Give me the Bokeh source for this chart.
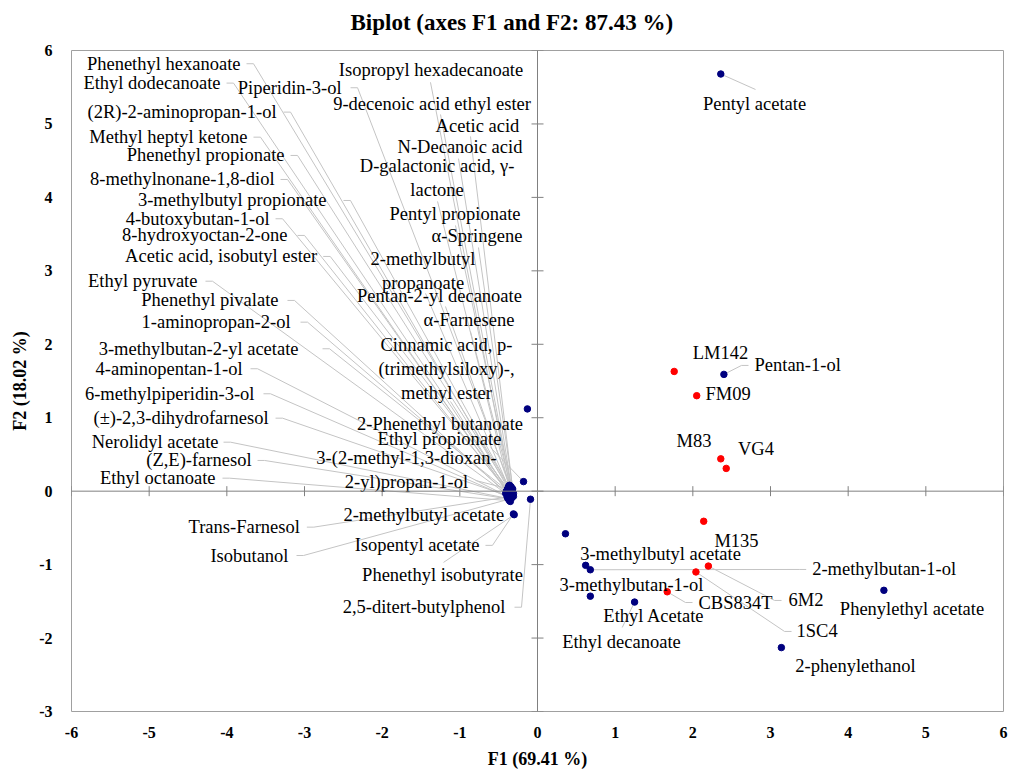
from bokeh.plotting import figure
from bokeh.models import Range1d, FixedTicker, Span, Title
from bokeh.core.properties import value
from bokeh.embed import file_html
from bokeh.resources import INLINE

title_text = "Biplot (axes F1 and F2: 87.43 %)"
x_title = "F1 (69.41 %)"
y_title = "F2 (18.02 %)"
x_ticks = list(range(-6, 7))
y_ticks = list(range(-3, 7))

# ---- Observations (strains), red ----
obs_names = ["LM142", "FM09", "M83", "VG4", "M135", "6M2", "1SC4", "CBS834T"]
obs_f1 = [1.76, 2.05, 2.36, 2.43, 2.14, 2.20, 2.04, 1.67]
obs_f2 = [1.63, 1.30, 0.44, 0.31, -0.41, -1.02, -1.10, -1.37]

# ---- Variables (compounds), navy ----
var_names = [
    "Phenethyl hexanoate", "Ethyl dodecanoate", "Piperidin-3-ol",
    "(2R)-2-aminopropan-1-ol", "Methyl heptyl ketone", "Phenethyl propionate",
    "8-methylnonane-1,8-diol", "3-methylbutyl propionate", "4-butoxybutan-1-ol",
    "8-hydroxyoctan-2-one", "Acetic acid, isobutyl ester", "Ethyl pyruvate",
    "Phenethyl pivalate", "1-aminopropan-2-ol", "3-methylbutan-2-yl acetate",
    "4-aminopentan-1-ol", "6-methylpiperidin-3-ol", "(±)-2,3-dihydrofarnesol",
    "Nerolidyl acetate", "(Z,E)-farnesol", "Ethyl octanoate",
    "Isopropyl hexadecanoate", "9-decenoic acid ethyl ester", "Acetic acid",
    "N-Decanoic acid", "D-galactonic acid, γ-lactone", "Pentyl propionate",
    "α-Springene", "2-methylbutyl propanoate", "Pentan-2-yl decanoate",
    "α-Farnesene", "Cinnamic acid, p-(trimethylsiloxy)-, methyl ester",
    "2-Phenethyl butanoate", "Ethyl propionate",
    "3-(2-methyl-1,3-dioxan-2-yl)propan-1-ol",
    "Trans-Farnesol", "Isobutanol", "2-methylbutyl acetate",
    "Isopentyl acetate", "Phenethyl isobutyrate", "2,5-ditert-butylphenol",
    "Pentyl acetate", "Pentan-1-ol", "Phenylethyl acetate", "2-phenylethanol",
    "3-methylbutyl acetate", "3-methylbutan-1-ol", "2-methylbutan-1-ol",
    "Ethyl Acetate", "Ethyl decanoate",
]
var_f1 = [
    -0.37, -0.39, -0.34, -0.38, -0.40, -0.35, -0.38, -0.34, -0.37, -0.36,
    -0.34, -0.41, -0.38, -0.35, -0.33, -0.39, -0.36, -0.34, -0.38, -0.35,
    -0.36, -0.36, -0.34, -0.32, -0.33, -0.35, -0.32, -0.31, -0.34, -0.32,
    -0.31, -0.33, -0.13, -0.18, -0.37, -0.39, -0.37, -0.35, -0.31, -0.30,
    -0.09, 2.36, 2.40, 4.46, 3.14, 0.36, 0.62, 0.68, 0.68, 1.25,
]
var_f2 = [
    0.07, 0.02, 0.05, 0.04, 0.00, 0.02, -0.02, 0.01, -0.01, -0.04,
    -0.02, -0.03, -0.05, -0.06, -0.04, -0.07, -0.09, -0.08, -0.10, -0.11,
    -0.13, 0.08, 0.06, 0.03, 0.02, 0.00, -0.01, -0.03, -0.03, -0.05,
    -0.07, -0.09, 1.12, 0.13, 0.03, -0.08, -0.11, -0.14, -0.31, -0.32,
    -0.11, 5.68, 1.59, -1.35, -2.13, -0.58, -1.01, -1.07, -1.43, -1.51,
]

# ---- Label layout (placement only): text, x, y, align, leader ----
# leader: None, ("e", gap_px) elbow from label side, ("s", x, y) straight from a start point
var_layout = [
    ("Phenethyl hexanoate", -3.824, 5.820, "right", ("e", 6)),
    ("Ethyl dodecanoate", -4.081, 5.556, "right", ("e", 6)),
    ("Piperidin-3-ol", -2.523, 5.493, "right", ("e", 9)),
    ("(2R)-2-aminopropan-1-ol", -3.360, 5.161, "right", ("e", 7)),
    ("Methyl heptyl ketone", -3.734, 4.820, "right", ("e", 6)),
    ("Phenethyl propionate", -3.257, 4.571, "right", ("e", 6)),
    ("8-methylnonane-1,8-diol", -3.386, 4.244, "right", ("e", 6)),
    ("3-methylbutyl propionate", -2.717, 3.958, "right", ("e", 17)),
    ("4-butoxybutan-1-ol", -3.450, 3.709, "right", ("e", 6)),
    ("8-hydroxyoctan-2-one", -3.219, 3.482, "right", ("e", 10)),
    ("Acetic acid, isobutyl ester", -2.836, 3.196, "right", ("e", 6)),
    ("Ethyl pyruvate", -4.378, 2.859, "right", ("e", 8)),
    ("Phenethyl pivalate", -3.335, 2.597, "right", ("e", 9)),
    ("1-aminopropan-2-ol", -3.180, 2.301, "right", ("e", 10)),
    ("3-methylbutan-2-yl acetate", -3.077, 1.939, "right", ("e", 24)),
    ("4-aminopentan-1-ol", -3.798, 1.667, "right", ("e", 8)),
    ("6-methylpiperidin-3-ol", -3.644, 1.326, "right", ("e", 9)),
    ("(±)-2,3-dihydrofarnesol", -3.463, 0.994, "right", ("e", 7)),
    ("Nerolidyl acetate", -4.107, 0.667, "right", ("e", 5)),
    ("(Z,E)-farnesol", -3.682, 0.418, "right", ("e", 6)),
    ("Ethyl octanoate", -4.146, 0.177, "right", ("e", 7)),
    ("Isopropyl hexadecanoate", -1.371, 5.728, "center", ("s", -1.378, 5.567)),
    ("9-decenoic acid ethyl ester", -1.358, 5.275, "center", ("s", -1.249, 5.129)),
    ("Acetic acid", -0.773, 4.966, "center", ("s", -0.863, 4.830)),
    ("N-Decanoic acid", -0.998, 4.684, "center", ("s", -1.017, 4.528)),
    ("D-galactonic acid, γ-\nlactone", -1.293, 4.258, "center", ("s", -1.287, 3.945)),
    ("Pentyl propionate", -1.062, 3.768, "center", ("s", -1.056, 3.618)),
    ("α-Springene", -0.779, 3.468, "center", ("s", -0.760, 3.318)),
    ("2-methylbutyl\npropanoate", -1.474, 2.992, "center", ("s", -1.442, 2.693)),
    ("Pentan-2-yl decanoate", -1.262, 2.655, "center", ("s", -1.185, 2.515)),
    ("α-Farnesene", -0.882, 2.324, "center", ("s", -0.863, 2.175)),
    ("Cinnamic acid, p-\n(trimethylsiloxy)-,\nmethyl ester", -1.172, 1.667, "center", ("s", -1.120, 1.221)),
    ("2-Phenethyl butanoate", -1.255, 0.918, "center", None),
    ("Ethyl propionate", -1.262, 0.713, "center", ("s", -0.605, 0.595)),
    ("3-(2-methyl-1,3-dioxan-\n2-yl)propan-1-ol", -1.687, 0.282, "center", ("s", -0.798, 0.146)),
    ("Trans-Farnesol", -3.060, -0.490, "right", ("e", 7)),
    ("Isobutanol", -3.206, -0.876, "right", ("e", 8)),
    ("2-methylbutyl acetate", -1.464, -0.331, "center", None),
    ("Isopentyl acetate", -0.747, -0.738, "right", ("e", 6)),
    ("Phenethyl isobutyrate", -1.223, -1.148, "center", ("s", -1.210, -0.970)),
    ("2,5-ditert-butylphenol", -0.412, -1.580, "right", ("e", 9)),
    ("Pentyl acetate", 2.794, 5.278, "center", ("s", 2.807, 5.469)),
    ("Pentan-1-ol", 2.794, 1.712, "left", ("e", 6)),
    ("Phenylethyl acetate", 4.822, -1.611, "center", None),
    ("2-phenylethanol", 4.094, -2.387, "center", None),
    ("3-methylbutyl acetate", 1.584, -0.852, "center", None),
    ("3-methylbutan-1-ol", 1.210, -1.284, "center", None),
    ("2-methylbutan-1-ol", 3.537, -1.066, "left", ("e", 6)),
    ("Ethyl Acetate", 1.499, -1.693, "center", None),
    ("Ethyl decanoate", 1.081, -2.056, "center", ("s", 1.091, -1.856)),
]
obs_layout = [
    ("LM142", 2.356, 1.875, "center", None),
    ("FM09", 2.163, 1.317, "left", None),
    ("M83", 2.015, 0.677, "center", None),
    ("VG4", 2.813, 0.568, "center", None),
    ("M135", 2.562, -0.685, "center", None),
    ("6M2", 3.232, -1.488, "left", ("e", 7)),
    ("1SC4", 3.335, -1.910, "left", ("e", 5)),
    ("CBS834T", 2.073, -1.516, "left", ("e", 6)),
]

X0, X1, Y0, Y1 = -6, 6, -3, 6
W, H = 1012, 771
ML, MR, MT, MB = 71, 9, 50, 60
PX_X = (W - ML - MR) / (X1 - X0)
PX_Y = (H - MT - MB) / (Y1 - Y0)

SERIF = "Liberation Serif"
NAVY = "#00007f"
RED = "#ff0000"
LEAD = "#c4c4c4"

p = figure(width=W, height=H, output_backend="svg", toolbar_location=None,
           x_range=Range1d(X0, X1), y_range=Range1d(Y0, Y1),
           min_border_left=ML, min_border_right=MR,
           min_border_top=MT, min_border_bottom=MB,
           background_fill_color="white", border_fill_color="white")
p.outline_line_color = "#a0a0a0"
p.outline_line_width = 1
p.xgrid.visible = False
p.ygrid.visible = False

p.title.text = title_text
p.title.align = "left"
p.title.offset = 279
p.title.standoff = 14
p.title.text_font = SERIF
p.title.text_font_style = "bold"
p.title.text_font_size = "23px"
p.title.text_color = "black"
# thin empty spacer between the title and the frame
p.add_layout(Title(text=" ", text_font_size="1px", standoff=6), "above")

for ax, ticks, lab in ((p.xaxis, x_ticks, x_title), (p.yaxis, y_ticks, y_title)):
    ax.ticker = FixedTicker(ticks=ticks)
    ax.major_label_overrides = {t: str(t) for t in ticks}
    ax.axis_line_color = None
    ax.major_tick_line_color = None
    ax.minor_tick_line_color = None
    ax.major_tick_out = 0
    ax.major_tick_in = 0
    ax.minor_tick_out = 0
    ax.minor_tick_in = 0
    ax.major_label_text_font = SERIF
    ax.major_label_text_font_style = "bold"
    ax.major_label_text_font_size = "16px"
    ax.major_label_text_color = "black"
    ax.axis_label = lab
    ax.axis_label_text_font = SERIF
    ax.axis_label_text_font_style = "bold"
    ax.axis_label_text_font_size = "18px"
    ax.axis_label_text_color = "black"
p.xaxis.major_label_standoff = 15
p.xaxis.axis_label_standoff = 8
p.yaxis.major_label_standoff = 19
p.yaxis.axis_label_standoff = 6

# central axes through the origin with ticks
p.add_layout(Span(location=0, dimension="height", line_color="#808080", line_width=1))
p.add_layout(Span(location=0, dimension="width", line_color="#808080", line_width=1))
p.segment(x0=x_ticks, x1=x_ticks, y0=[-5 / PX_Y] * len(x_ticks), y1=[5 / PX_Y] * len(x_ticks),
          line_color="#808080", line_width=1)
p.segment(x0=[-6 / PX_X] * len(y_ticks), x1=[6 / PX_X] * len(y_ticks), y0=y_ticks, y1=y_ticks,
          line_color="#808080", line_width=1)

# leader lines
xs, ys = [], []
def add_leaders(layout, f1s, f2s):
    for (txt, lx, ly, align, lead), fx, fy in zip(layout, f1s, f2s):
        if lead is None:
            continue
        if lead[0] == "e":
            s = 1 if align == "right" else -1
            xs.append([lx + s * lead[1] / PX_X, lx + s * (lead[1] + 7) / PX_X, fx])
            ys.append([ly, ly, fy])
        else:
            xs.append([lead[1], fx])
            ys.append([lead[2], fy])
add_leaders(var_layout, var_f1, var_f2)
add_leaders(obs_layout, obs_f1, obs_f2)
p.multi_line(xs, ys, line_color=LEAD, line_width=1)

# points
p.scatter(var_f1, var_f2, size=6.5, fill_color=NAVY, line_color=NAVY)
p.scatter(obs_f1, obs_f2, size=6.5, fill_color=RED, line_color=RED)

# labels
for align in ("left", "center", "right"):
    items = [l for l in var_layout + obs_layout if l[3] == align]
    p.text(x=[l[1] for l in items], y=[l[2] for l in items], text=[l[0] for l in items],
           text_align=align, text_baseline="middle", text_font=value(SERIF),
           text_font_size=value("18.5px"), text_color="black", text_line_height=1.2)

open("out.html", "w").write(file_html(p, INLINE))
